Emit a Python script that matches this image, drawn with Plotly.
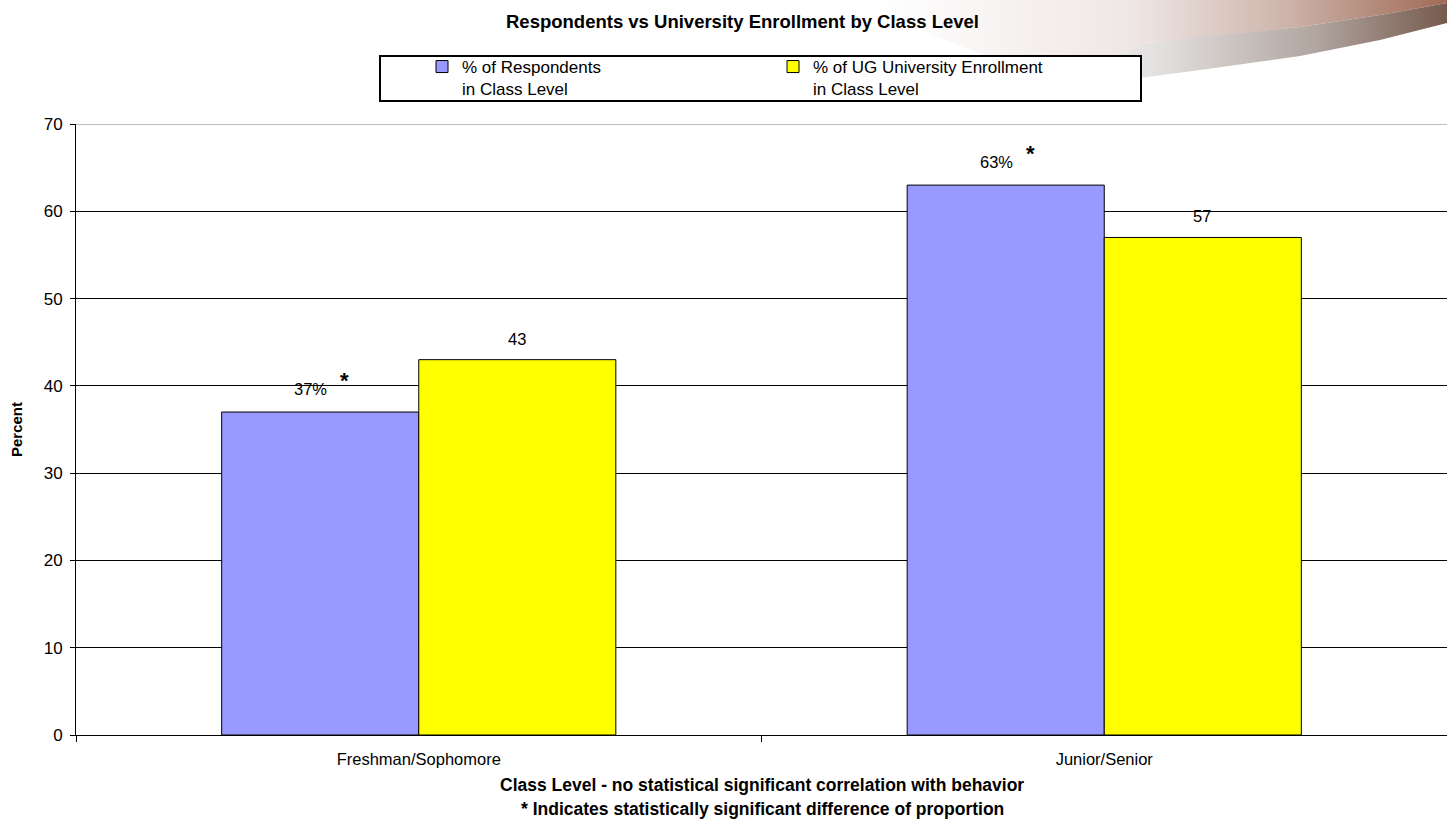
import plotly.graph_objects as go

# ---- data ----
categories = ["Freshman/Sophomore", "Junior/Senior"]
respondents = [37, 63]
enrollment = [43, 57]
respondent_labels = ["37%", "63%"]
enrollment_labels = ["43", "57"]
significant = [True, True]
y_ticks = [0, 10, 20, 30, 40, 50, 60, 70]

# ---- page geometry (pixels) ----
W, H = 1447, 824
PLOT_L, PLOT_R = 76, 1447
PLOT_T, PLOT_B = 124, 735
FONT = "Arial, Liberation Sans, sans-serif"


def px(x):
    return x / W


def py(y):
    return 1 - y / H


fig = go.Figure()

fig.add_bar(
    x=categories, y=respondents,
    name="% of Respondents<br>in Class Level",
    marker=dict(color="#9999FF", line=dict(color="black", width=1)),
)
fig.add_bar(
    x=categories, y=enrollment,
    name="% of UG University Enrollment<br>in Class Level",
    marker=dict(color="#FFFF00", line=dict(color="black", width=1)),
)

# decorative swoosh in the top-right corner (pixel space on a hidden axis pair)
face_x = [880, 1447, 1447, 1380, 1300, 1200, 1147, 1100, 1000, 920, 880]
face_y = [0, 0, 3, 15, 27, 37, 43, 62, 62, 30, 0]
band_x = [1447, 1447, 1380, 1300, 1200, 1147, 1100, 1080, 1100, 1147, 1200, 1300, 1380, 1447]
band_y = [3, 23, 40, 56, 70, 77, 82, 75, 62, 43, 37, 27, 15, 3]

fig.add_scatter(
    x=face_x, y=face_y, xaxis="x2", yaxis="y2", mode="lines",
    line=dict(width=0), fill="toself",
    fillgradient=dict(type="horizontal", start=880, stop=1447,
                      colorscale=[[0, "#FFFFFF"], [0.45, "#EEE6E4"], [0.72, "#CDB3A9"], [1, "#A06A56"]]),
    showlegend=False, hoverinfo="skip",
)
fig.add_scatter(
    x=band_x, y=band_y, xaxis="x2", yaxis="y2", mode="lines",
    line=dict(width=0), fill="toself",
    fillgradient=dict(type="horizontal", start=1080, stop=1447,
                      colorscale=[[0, "#EDEDED"], [0.2, "#E4E2E1"], [0.65, "#B0A49E"], [1, "#765A4E"]]),
    showlegend=False, hoverinfo="skip",
)

annotations = []
# value labels above the bars
for cat, v, lab, star in zip(categories, respondents, respondent_labels, significant):
    annotations.append(dict(x=cat, y=v, xref="x", yref="y", text=lab, showarrow=False,
                            xshift=-108, yshift=23, font=dict(size=16.5, color="black")))
    if star:
        annotations.append(dict(x=cat, y=v, xref="x", yref="y", text="<b>*</b>", showarrow=False,
                                xshift=-74, yshift=32, font=dict(size=22, color="black")))
for cat, v, lab in zip(categories, enrollment, enrollment_labels):
    annotations.append(dict(x=cat, y=v, xref="x", yref="y", text=lab, showarrow=False,
                            xshift=98, yshift=21, font=dict(size=16.5, color="black")))

# titles and captions
annotations += [
    dict(x=px(743), y=py(21), xref="paper", yref="paper", showarrow=False,
         xanchor="center", yanchor="middle",
         text="<b>Respondents vs University Enrollment by Class Level</b>",
         font=dict(size=18.5, color="black")),
    dict(x=px(16), y=py(430), xref="paper", yref="paper", showarrow=False, textangle=-90,
         xanchor="center", yanchor="middle",
         text="<b>Percent</b>", font=dict(size=15, color="black")),
    dict(x=px(762), y=py(785), xref="paper", yref="paper", showarrow=False,
         xanchor="center", yanchor="middle",
         text="<b>Class Level - no statistical significant correlation with behavior</b>",
         font=dict(size=17.5, color="black")),
    dict(x=px(762), y=py(809), xref="paper", yref="paper", showarrow=False,
         xanchor="center", yanchor="middle",
         text="<b>* Indicates statistically significant difference of proportion</b>",
         font=dict(size=17.5, color="black")),
]

fig.update_layout(
    width=W, height=H, autosize=False,
    margin=dict(l=0, r=0, t=0, b=0, pad=0, autoexpand=False),
    paper_bgcolor="white", plot_bgcolor="rgba(0,0,0,0)",
    font=dict(family=FONT, color="black"),
    barmode="group", bargap=0.425, bargroupgap=0,
    showlegend=True,
    legend=dict(
        orientation="h", x=px(422), y=py(49), xref="paper", yref="paper",
        xanchor="left", yanchor="top", entrywidth=306, entrywidthmode="pixels",
        valign="top", bgcolor="rgba(0,0,0,0)", borderwidth=0,
        font=dict(size=17, color="black"), traceorder="normal",
    ),
    shapes=[
        # legend frame
        dict(type="rect", xref="paper", yref="paper", layer="above",
             x0=px(380), x1=px(1141), y0=py(56), y1=py(101),
             line=dict(color="black", width=2), fillcolor="white"),
        # top gridline at the upper end of the value axis
        dict(type="line", xref="x domain", yref="y", layer="below",
             x0=0, x1=1, y0=y_ticks[-1], y1=y_ticks[-1],
             line=dict(color="#808080", width=1)),
    ],
    annotations=annotations,
    xaxis=dict(
        domain=[px(PLOT_L), px(PLOT_R)], type="category", automargin=False,
        tickson="boundaries", ticks="outside", ticklen=6, tickcolor="black",
        showline=True, linecolor="black", linewidth=1,
        showgrid=False, tickfont=dict(size=16.5, color="black"),
        ticklabelstandoff=9,
    ),
    yaxis=dict(
        domain=[py(PLOT_B), py(PLOT_T)], range=[0, 70], automargin=False,
        tickvals=y_ticks, ticks="outside", ticklen=5, tickcolor="black",
        showline=True, linecolor="black", linewidth=1,
        showgrid=True, gridcolor="black", gridwidth=1, zeroline=False,
        tickfont=dict(size=17, color="black"), ticklabelstandoff=4,
    ),
    xaxis2=dict(domain=[0, 1], range=[0, W], visible=False, anchor="y2",
                fixedrange=True, automargin=False),
    yaxis2=dict(domain=[0, 1], range=[H, 0], visible=False, anchor="x2",
                fixedrange=True, automargin=False),
)

fig.write_html("out.html")
